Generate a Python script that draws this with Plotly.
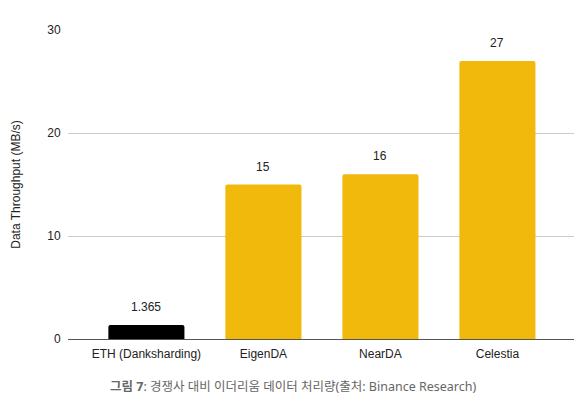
import plotly.graph_objects as go

categories = ["ETH (Danksharding)", "EigenDA", "NearDA", "Celestia"]
values = [1.365, 15, 16, 27]
value_labels = ["1.365", "15", "16", "27"]
colors = ["#000000", "#F0B90B", "#F0B90B", "#F0B90B"]
y_ticks = [0, 10, 20, 30]

AXFONT = "Liberation Sans, Arial, sans-serif"

fig = go.Figure()
fig.add_trace(go.Bar(
    x=list(range(len(categories))), y=values,
    marker=dict(color=colors, line=dict(width=0), cornerradius=2),
    width=0.65, hoverinfo="skip",
))
for i, (v, t) in enumerate(zip(values, value_labels)):
    fig.add_annotation(x=i, y=v, text=t, showarrow=False, yshift=18,
                       font=dict(size=12, color="#222222", family=AXFONT))

fig.add_annotation(
    xref="paper", yref="paper", x=0.443, y=-0.155, xanchor="center", yanchor="middle",
    text="<b>그림 7</b>: 경쟁사 대비 이더리움 데이터 처리량(출처: Binance Research)",
    showarrow=False, font=dict(size=12.5, color="#666666", family="Noto Sans, Noto Sans CJK KR"),
)

fig.update_layout(
    width=574, height=391,
    margin=dict(l=60, r=5, t=22, b=60),
    paper_bgcolor="white", plot_bgcolor="white",
    showlegend=False,
    font=dict(family=AXFONT, size=12, color="#222222"),
    xaxis=dict(
        tickmode="array", tickvals=list(range(len(categories))), ticktext=categories,
        range=[-0.67, 3.68], showgrid=False, zeroline=False,
        showline=False, ticks="outside", ticklen=4, tickcolor="rgba(0,0,0,0)",
        tickfont=dict(size=12, color="#222222", family=AXFONT),
    ),
    yaxis=dict(
        range=[0, 30], tickvals=y_ticks, showgrid=True, gridcolor="#cccccc",
        gridwidth=1, zeroline=True, zerolinecolor="#555555", zerolinewidth=1,
        ticks="outside", ticklen=4, tickcolor="rgba(0,0,0,0)",
        tickfont=dict(size=12, color="#222222", family=AXFONT),
        title=dict(text="Data Throughput (MB/s)", font=dict(size=12, color="#222222", family=AXFONT), standoff=24),
    ),
)
fig.write_html("out.html")
